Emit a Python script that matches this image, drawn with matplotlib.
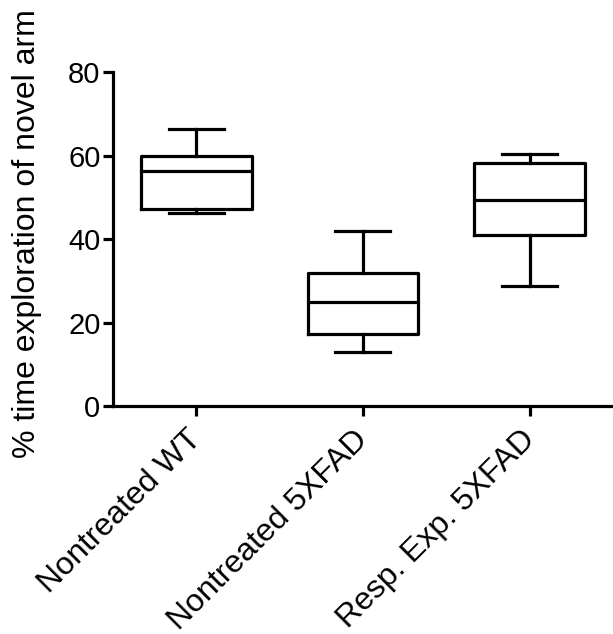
import matplotlib
matplotlib.use("Agg")
import matplotlib.pyplot as plt
from matplotlib.transforms import ScaledTranslation

plt.rcParams['font.family'] = ['Liberation Sans', 'DejaVu Sans']

groups = ["Nontreated WT", "Nontreated 5XFAD", "Resp. Exp. 5XFAD"]
mins = [46.2, 12.9, 28.8]
q1s = [47.3, 17.2, 40.9]
medians = [56.2, 25.0, 49.4]
q3s = [59.8, 31.8, 58.3]
maxs = [66.4, 41.9, 60.3]
yticks = [0, 20, 40, 60, 80]

stats = [
    dict(label=g, whislo=lo, q1=a, med=m, q3=b, whishi=hi, fliers=[])
    for g, lo, a, m, b, hi in zip(groups, mins, q1s, medians, q3s, maxs)
]

fig = plt.figure(figsize=(6.13, 6.34), dpi=100)
ax = fig.add_axes([0.1843, 0.3596, 0.8157, 0.5268])

lw = 2.3
line = dict(color='black', linewidth=lw)
ax.bxp(stats, positions=range(len(groups)), widths=0.665, capwidths=0.33,
       showfliers=False, boxprops=line, whiskerprops=line, capprops=line,
       medianprops=line)

ax.set_xlim(-0.5, 2.5)
ax.set_ylim(0, 80)
ax.set_yticks(yticks)
ax.set_xticks(range(len(groups)))

for s in ('top', 'right'):
    ax.spines[s].set_visible(False)
for s in ('left', 'bottom'):
    ax.spines[s].set_linewidth(lw)

ax.tick_params(axis='both', width=lw, length=7, direction='out')
ax.tick_params(axis='y', labelsize=21, pad=2)
ax.tick_params(axis='x', pad=4)

ax.set_xticklabels(groups, rotation=45, ha='right', va='top',
                   rotation_mode='anchor', fontsize=23)

# nudge the slanted category labels left of their ticks
shift = ScaledTranslation(-0.10, -0.03, fig.dpi_scale_trans)
for lab in ax.xaxis.get_majorticklabels():
    lab.set_transform(lab.get_transform() + shift)

ax.set_ylabel("% time exploration of novel arm", fontsize=23)
ax.yaxis.set_label_coords(-0.142, 0.516)

fig.savefig("out.png", dpi=100)
